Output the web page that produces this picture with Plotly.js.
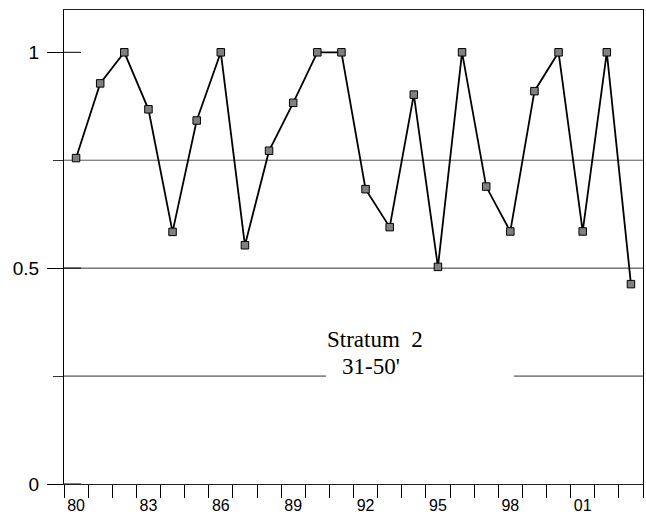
<!DOCTYPE html>
<html>
<head>
<meta charset="utf-8">
<script src="https://cdn.plot.ly/plotly-3.0.1.min.js"></script>
<style>html,body{margin:0;padding:0;background:#fff;}</style>
</head>
<body>
<div id="chart" style="width:646px;height:515px;"></div>
<script>
// Data
const years = [1980,1981,1982,1983,1984,1985,1986,1987,1988,1989,1990,1991,1992,1993,1994,1995,1996,1997,1998,1999,2000,2001,2002,2003];
const values = [0.755,0.928,1.0,0.868,0.584,0.842,1.0,0.553,0.772,0.883,1.0,1.0,0.683,0.595,0.902,0.503,1.0,0.689,0.585,0.910,1.0,0.585,1.0,0.463];
const xTickVals = [1980,1983,1986,1989,1992,1995,1998,2001];
const xTickText = ['80','83','86','89','92','95','98','01'];
const yTickVals = [0,0.5,1];
const yTickText = ['0','0.5','1'];
const yMinorVals = [0.25,0.75];
const labelLines = ['Stratum\u00a0\u00a02', "31-50'"];

const boundaries = years.map(y => y - 0.5).concat([years[years.length-1] + 0.5]);
const xRange = [boundaries[0], boundaries[boundaries.length-1]];
const yRange = [0, 1.098];

const trace = {
  x: years, y: values, type: 'scatter', mode: 'lines+markers',
  line: {color: '#000', width: 1.8},
  marker: {symbol: 'square', size: 7.5, color: '#808080', line: {color: '#000', width: 1}},
  hoverinfo: 'skip', cliponaxis: false
};

const gridColor = '#333';
const shapes = [
  {type:'line', xref:'paper', yref:'y', x0:0, x1:1, y0:0.5, y1:0.5, line:{color:gridColor, width:1}, layer:'below'},
  {type:'line', xref:'paper', yref:'y', x0:0, x1:1, y0:0.75, y1:0.75, line:{color:'#555', width:1}, layer:'below'},
  {type:'line', xref:'x', yref:'y', x0:xRange[0], x1:1990.36, y0:0.25, y1:0.25, line:{color:gridColor, width:1}, layer:'below'},
  {type:'line', xref:'x', yref:'y', x0:1998.15, x1:xRange[1], y0:0.25, y1:0.25, line:{color:gridColor, width:1}, layer:'below'}
].concat(yTickVals.map(v => ({
  type:'line', xref:'x', yref:'y', xsizemode:'pixel', xanchor:xRange[0], x0:0, x1:17, y0:v, y1:v,
  line:{color:'#000', width:1}, layer:'above'
})));

const layout = {
  width: 646, height: 515,
  margin: {l: 64, r: 3, t: 10, b: 31, pad: 0},
  paper_bgcolor: '#fff', plot_bgcolor: '#fff',
  showlegend: false,
  font: {family: '"Liberation Sans", Arial, sans-serif', size: 17, color: '#000'},
  xaxis: {
    range: xRange, tickmode: 'array', tickvals: xTickVals, ticktext: xTickText,
    ticks: '', ticklabelstandoff: 7, showgrid: false, zeroline: false,
    showline: true, linecolor: '#222', linewidth: 1, mirror: true,
    minor: {tickmode: 'array', tickvals: boundaries, ticks: 'outside', ticklen: 13, tickwidth: 1, tickcolor: '#000', showgrid: false},
    tickfont: {size: 16}
  },
  yaxis: {
    range: yRange, tickmode: 'array', tickvals: yTickVals, ticktext: yTickText,
    ticks: 'outside', ticklen: 16, tickwidth: 1, tickcolor: '#000', ticklabelstandoff: 4,
    showgrid: false, zeroline: false,
    showline: true, linecolor: '#000', linewidth: 1, mirror: true,
    minor: {tickmode: 'array', tickvals: yMinorVals, ticks: 'outside', ticklen: 10, tickwidth: 1, tickcolor: '#333', showgrid: false},
    tickfont: {size: 19}
  },
  shapes: shapes,
  annotations: [
    {xref:'x', yref:'y', x: 1992.39, y: 0.334, text: labelLines[0], showarrow:false, xanchor:'center', yanchor:'middle',
     font:{family:'"Liberation Serif", "Times New Roman", serif', size:23, color:'#000'}},
    {xref:'x', yref:'y', x: 1992.22, y: 0.273, text: labelLines[1], showarrow:false, xanchor:'center', yanchor:'middle',
     font:{family:'"Liberation Serif", "Times New Roman", serif', size:23, color:'#000'}}
  ]
};

Plotly.newPlot('chart', [trace], layout, {staticPlot: true, displayModeBar: false});
</script>
</body>
</html>
